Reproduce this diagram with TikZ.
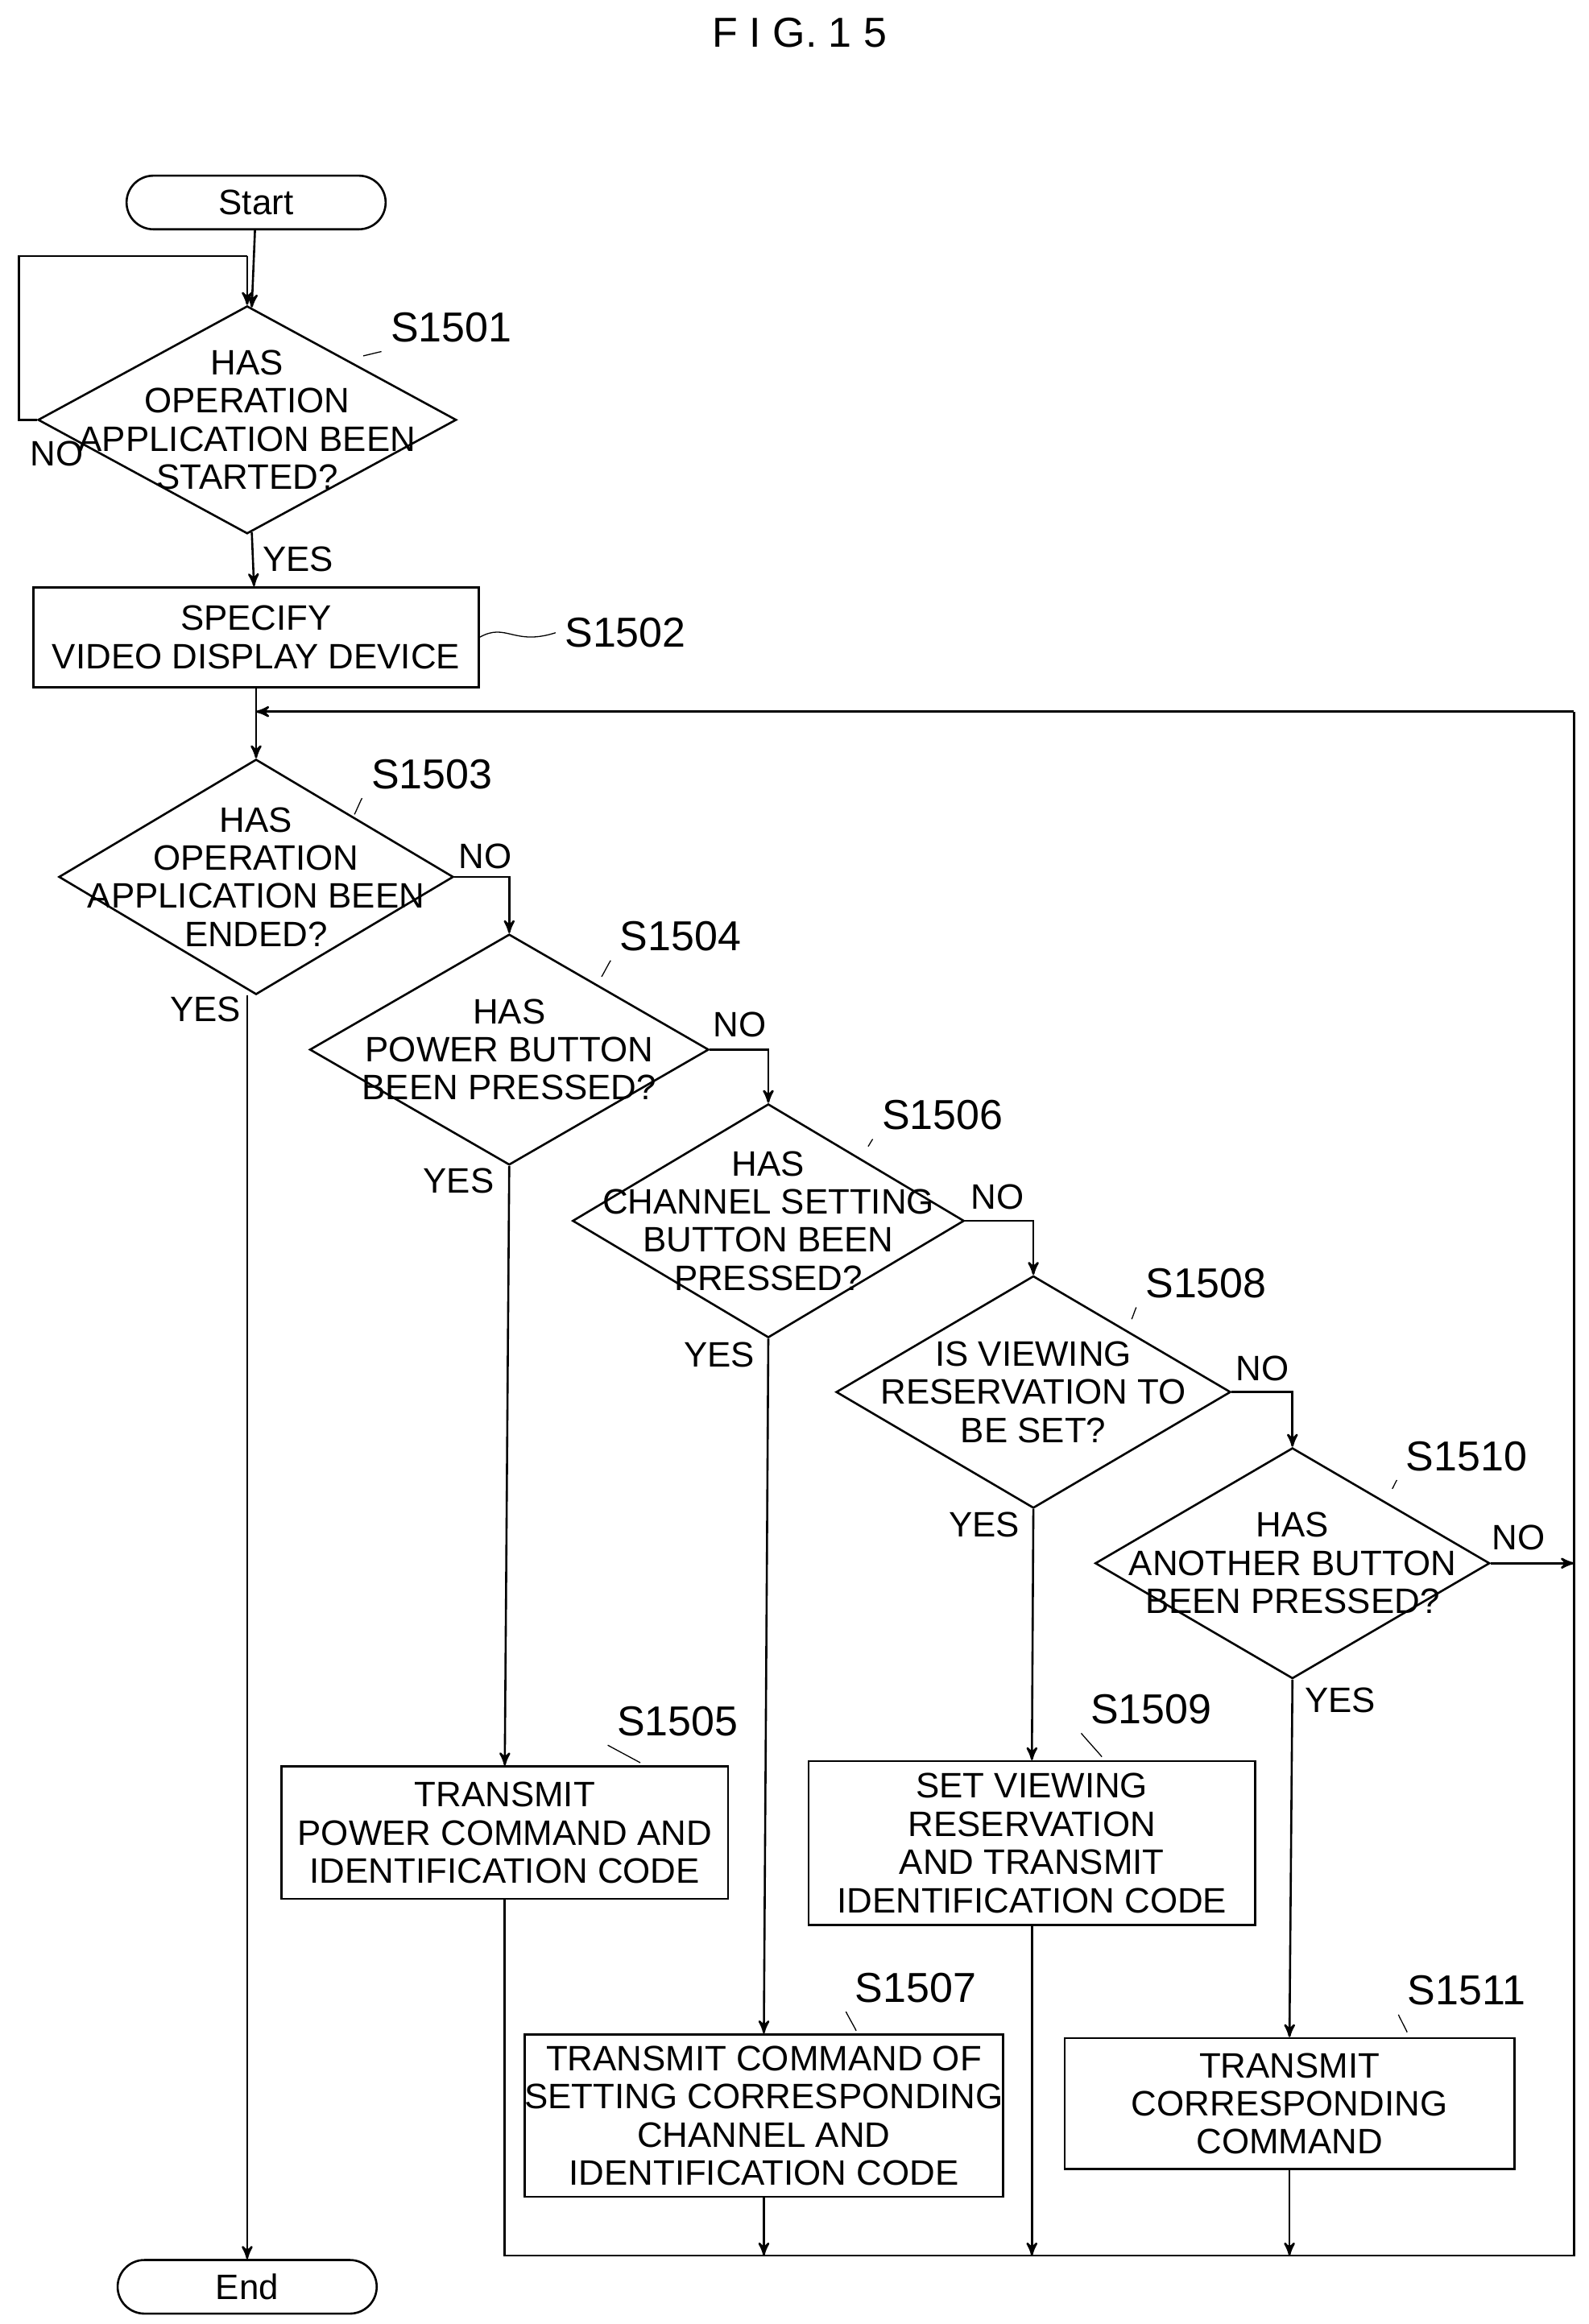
\documentclass[tikz,border=0pt]{standalone}
\usepackage{fontspec}
\setmainfont{Liberation Sans}
\usetikzlibrary{arrows,positioning,shapes,calc}
\tikzset{
    % standard arrow tip
    >=stealth',
    % flow line
    pil/.style={->, thick},
    ln/.style={thick},
    % boxes
    term/.style={draw, thick, rounded corners=18*0.02cm, minimum width=174*0.02cm, minimum height=36*0.02cm},
    proc/.style={draw, thick, minimum width=#1, inner sep=0pt},
    dia/.style={draw, thick, diamond, inner sep=0pt},
    txt/.style={align=center, font=\fontsize{13.5}{14.6}\selectfont},
    stp/.style={font=\fontsize{16}{18}\selectfont},
    squig/.style={thin}
}
\newcommand\stepsq[2]{% squiggle from a point to a step label
  \draw[squig] (#1) .. controls ++(0.25,0.05) and ++(-0.3,-0.05) .. (#2);}
\begin{document}
\begin{tikzpicture}[x=0.02cm,y=-0.02cm]
\useasboundingbox (0,0) rectangle (1067,1561);
\node[stp] (title) at (537,22) {F I G. 1 5};

\node[term,txt] (start) at (172,136) {Start};
\node[term,txt] (end) at (166,1536) {End};

% decisions
\node[dia, minimum width=281*0.02cm, minimum height=153*0.02cm] (d1) at (166,282) {};
\node[txt] at (d1) {HAS\\OPERATION\\APPLICATION BEEN\\STARTED?};
\node[dia, minimum width=265*0.02cm, minimum height=158*0.02cm] (d3) at (172,589) {};
\node[txt] at (d3) {HAS\\OPERATION\\APPLICATION BEEN\\ENDED?};
\node[dia, minimum width=268*0.02cm, minimum height=155*0.02cm] (d4) at (342,705) {};
\node[txt] at (d4) {HAS\\POWER BUTTON\\BEEN PRESSED?};
\node[dia, minimum width=263*0.02cm, minimum height=157*0.02cm] (d6) at (516,820) {};
\node[txt] at (d6) {HAS\\CHANNEL SETTING\\BUTTON BEEN\\PRESSED?};
\node[dia, minimum width=265*0.02cm, minimum height=156*0.02cm] (d8) at (694,935) {};
\node[txt] at (d8) {IS VIEWING\\RESERVATION TO\\BE SET?};
\node[dia, minimum width=265*0.02cm, minimum height=155*0.02cm] (d10) at (868,1050) {};
\node[txt] at (d10) {HAS\\ANOTHER BUTTON\\BEEN PRESSED?};

% processes
\node[proc=299*0.02cm, minimum height=67*0.02cm, txt] (p2) at (172,428) {SPECIFY\\VIDEO DISPLAY DEVICE};
\node[proc=300*0.02cm, minimum height=89*0.02cm, txt] (p5) at (339,1231) {TRANSMIT\\POWER COMMAND AND\\IDENTIFICATION CODE};
\node[proc=304*0.02cm, minimum height=109*0.02cm, txt] (p7) at (513,1421) {TRANSMIT COMMAND OF\\SETTING CORRESPONDING\\CHANNEL AND\\IDENTIFICATION CODE};
\node[proc=300*0.02cm, minimum height=110*0.02cm, txt] (p9) at (693,1238) {SET VIEWING\\RESERVATION\\AND TRANSMIT\\IDENTIFICATION CODE};
\node[proc=302*0.02cm, minimum height=88*0.02cm, txt] (p11) at (866,1413) {TRANSMIT\\CORRESPONDING\\COMMAND};

% step labels
\node[stp] (l1) at (303,220) {S1501};
\node[stp] (l2) at (420,425) {S1502};
\node[stp] (l3) at (290,520) {S1503};
\node[stp] (l4) at (457,629) {S1504};
\node[stp] (l5) at (455,1156) {S1505};
\node[stp] (l6) at (633,749) {S1506};
\node[stp] (l7) at (615,1335) {S1507};
\node[stp] (l8) at (810,862) {S1508};
\node[stp] (l9) at (773,1148) {S1509};
\node[stp] (l10) at (985,978) {S1510};
\node[stp] (l11) at (985,1337) {S1511};
\coordinate (q1) at (244,239); \stepsq{q1}{l1.south west}
\draw[squig] (p2.east) .. controls (340,418) and (345,434) .. (l2.west);
\coordinate (q3) at (238,547); \stepsq{q3}{l3.south west}
\coordinate (q4) at (404,656); \stepsq{q4}{l4.south west}
\coordinate (q5) at (430,1184); \stepsq{q5}{l5.south west}
\coordinate (q6) at (583,770); \stepsq{q6}{l6.south west}
\coordinate (q7) at (575,1364); \stepsq{q7}{l7.south west}
\coordinate (q8) at (760,886); \stepsq{q8}{l8.south west}
\coordinate (q9) at (740,1180); \stepsq{q9}{l9.south west}
\coordinate (q10) at (935,1000); \stepsq{q10}{l10.south west}
\coordinate (q11) at (945,1365); \stepsq{q11}{l11.south west}

% connectors
\coordinate (top) at (166,172);
\draw[pil] (start) -- (d1);
\draw[ln] (d1.west) -- ++(-12,0) |- (top);
\draw[pil] (top) -- (d1.north);
\node[txt] at (38,305) {NO};
\draw[pil] (d1) -- (p2) node[txt, pos=0.5, right] {YES};

\coordinate (rt) at (1057,478);
\coordinate (rb) at (1057,1515);
\draw[pil] (rt) -- (rt -| d3.north);
\draw[pil] (p2.south -| d3.north) -- (d3.north);
\draw[pil] (d3.south -| end.north) -- (end.north);
\node[txt] at (138,678) {YES};

\draw[pil] (d3.east) -| (d4.north);
\node[txt] at (326,575) {NO};
\draw[pil] (d4.east) -| (d6.north);
\node[txt] at (497,688) {NO};
\draw[pil] (d6.east) -| (d8.north);
\node[txt] at (670,804) {NO};
\draw[pil] (d8.east) -| (d10.north);
\node[txt] at (848,919) {NO};
\draw[pil] (d10.east) -- (d10.east -| rb);
\node[txt] at (1020,1033) {NO};

\draw[pil] (d4.south) -- (p5.north);
\node[txt] at (308,793) {YES};
\draw[pil] (d6.south) -- (p7.north);
\node[txt] at (483,910) {YES};
\draw[pil] (d8.south) -- (p9.north);
\node[txt] at (661,1024) {YES};
\draw[pil] (d10.south) -- (p11.north);
\node[txt] at (900,1142) {YES};

\draw[ln] (p5.south) -- (p5.south |- rb) -- (rb) -- (rt);
\draw[pil] (p7.south) -- (p7.south |- rb);
\draw[pil] (p9.south) -- (p9.south |- rb);
\draw[pil] (p11.south) -- (p11.south |- rb);
\end{tikzpicture}
\end{document}
